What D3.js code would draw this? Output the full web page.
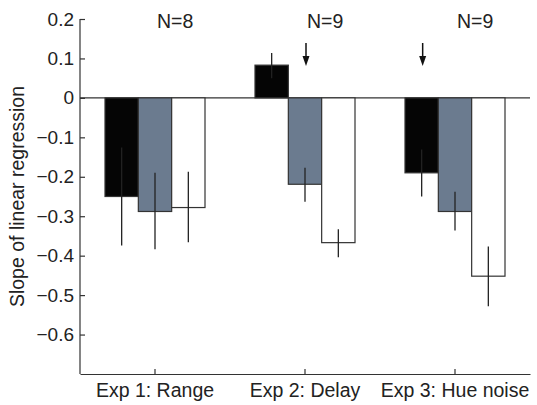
<!DOCTYPE html>
<html>
<head>
<meta charset="utf-8">
<title>Slope of linear regression</title>
<style>
  body {margin: 0; background: #fff;}
  svg {display: block; font-family: "Liberation Sans", Arial, sans-serif;}
  .axis path, .axis line {stroke: #333; stroke-width: 1.2px;}
  .axis text {fill: #222; font-size: 19px;}
  .err {stroke: #222; stroke-width: 1.3px;}
</style>
</head>
<body>
<script src="https://cdn.jsdelivr.net/npm/d3@7"></script>
<script>

// data
var experiments = ["Exp 1: Range", "Exp 2: Delay", "Exp 3: Hue noise"];
var conditions = ["black", "gray", "white"];
var nLabels = ["N=8", "N=9", "N=9"];

// rows = experiments, cols = conditions
var slopes = [
  [-0.250, -0.288, -0.278],
  [ 0.083, -0.219, -0.367],
  [-0.190, -0.288, -0.452]
];
var errLow = [
  [-0.374, -0.384, -0.366],
  [ 0.050, -0.263, -0.404],
  [-0.250, -0.336, -0.528]
];
var errHigh = [
  [-0.126, -0.190, -0.187],
  [ 0.114, -0.177, -0.333],
  [-0.131, -0.238, -0.377]
];
// arrows: which bar gets an arrow above it
var arrows = [
  {exp: "Exp 2: Delay", cond: "gray"},
  {exp: "Exp 3: Hue noise", cond: "black"}
];
var yTicks = [0.2, 0.1, 0, -0.1, -0.2, -0.3, -0.4, -0.5, -0.6];

var fills = {black: "#050505", gray: "#6b7b8f", white: "#ffffff"};

var W = 537, H = 405;
var mLeft = 80, mRight = 530, mTop = 19, mBottom = 374;

var svg = d3.select("body").append("svg").attr("width", W).attr("height", H);

var x = d3.scaleBand().domain(experiments).range([mLeft, mRight]).padding(0);
var xs = d3.scaleBand().domain(conditions).range([25, 125]).padding(0);
var y = d3.scaleLinear().domain([-0.7, 0.2]).range([mBottom, mTop]);

var fmt = function(d) { return d === 0 ? "0" : d3.format(".1f")(d).replace("-", "\u2212"); };

// zero line
svg.append("line")
  .attr("x1", mLeft).attr("x2", mRight)
  .attr("y1", y(0)).attr("y2", y(0))
  .attr("stroke", "#333").attr("stroke-width", 1.3);

var rows = [];
experiments.forEach(function(e, i) {
  conditions.forEach(function(c, j) {
    rows.push({exp: e, cond: c, v: slopes[i][j], lo: errLow[i][j], hi: errHigh[i][j]});
  });
});

svg.selectAll("rect.bar")
  .data(rows)
  .enter().append("rect")
    .attr("class", "bar")
    .attr("x", function(d) { return x(d.exp) + xs(d.cond); })
    .attr("width", xs.bandwidth())
    .attr("y", function(d) { return y(Math.max(0, d.v)); })
    .attr("height", function(d) { return Math.abs(y(d.v) - y(0)); })
    .attr("fill", function(d) { return fills[d.cond]; })
    .attr("stroke", "#333")
    .attr("stroke-width", 1.2);

svg.selectAll("line.err")
  .data(rows)
  .enter().append("line")
    .attr("class", "err")
    .attr("x1", function(d) { return x(d.exp) + xs(d.cond) + xs.bandwidth() / 2; })
    .attr("x2", function(d) { return x(d.exp) + xs(d.cond) + xs.bandwidth() / 2; })
    .attr("y1", function(d) { return y(d.lo); })
    .attr("y2", function(d) { return y(d.hi); });

// y axis, ticks inward
var yAxis = svg.append("g")
  .attr("class", "axis")
  .attr("transform", "translate(" + mLeft + ",0)")
  .call(d3.axisLeft(y).tickValues(yTicks).tickFormat(fmt).tickSizeInner(-5).tickSizeOuter(0).tickPadding(6));
yAxis.select(".domain").attr("d", "M0," + y(0.2) + "V" + mBottom);

// x axis, ticks inward
var xAxis = svg.append("g")
  .attr("class", "axis")
  .attr("transform", "translate(0," + mBottom + ")")
  .call(d3.axisBottom(x).tickSizeInner(-5).tickSizeOuter(0).tickPadding(9));
xAxis.selectAll("text").style("font-size", "19.5px");

// N labels
svg.selectAll("text.n")
  .data(experiments)
  .enter().append("text")
    .attr("class", "n")
    .attr("x", function(d) { return x(d) + x.bandwidth() / 2 + 2; })
    .attr("y", 28)
    .attr("fill", "#222")
    .style("font-size", "19.5px")
    .text(function(d, i) { return nLabels[i]; });

// arrows
var arr = svg.selectAll("g.arrow")
  .data(arrows)
  .enter().append("g")
    .attr("class", "arrow")
    .attr("transform", function(d) { return "translate(" + (x(d.exp) + xs(d.cond) + xs.bandwidth() / 2 + 1) + ",0)"; });
arr.append("line")
  .attr("x1", 0).attr("x2", 0).attr("y1", 43).attr("y2", 60)
  .attr("stroke", "#111").attr("stroke-width", 1.5);
arr.append("path")
  .attr("d", "M-3.5,56 L3.5,56 L0,66 Z")
  .attr("fill", "#111");

// y label
svg.append("text")
  .attr("transform", "translate(24," + ((mTop + mBottom) / 2) + ") rotate(-90)")
  .attr("text-anchor", "middle")
  .attr("fill", "#222")
  .style("font-size", "19.5px")
  .text("Slope of linear regression");

</script>
</body>
</html>
